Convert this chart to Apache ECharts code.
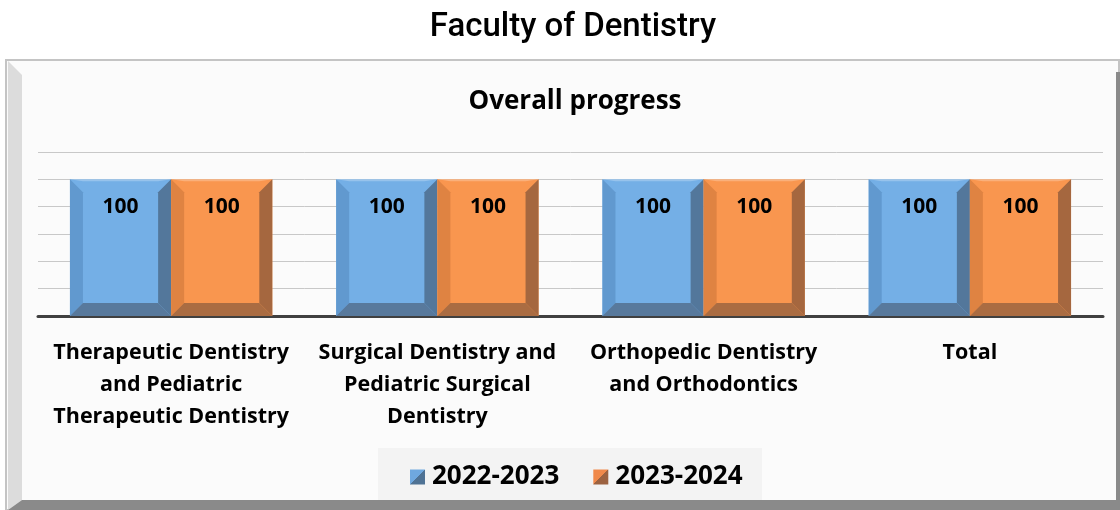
<!DOCTYPE html>
<html>
<head>
<meta charset="utf-8">
<script src="https://cdn.jsdelivr.net/npm/echarts@6/dist/echarts.min.js"></script>
<style>
html, body { margin: 0; padding: 0; background: #fff; }
#main { width: 1120px; height: 510px; }
</style>
</head>
<body>
<div id="main"></div>
<script>
var categories = [
    'Therapeutic Dentistry\nand Pediatric\nTherapeutic Dentistry',
    'Surgical Dentistry and\nPediatric Surgical\nDentistry',
    'Orthopedic Dentistry\nand Orthodontics',
    'Total'
];
var seriesNames = ['2022-2023', '2023-2024'];
var values2022 = [100, 100, 100, 100];
var values2023 = [100, 100, 100, 100];
var yTicks = [0, 20, 40, 60, 80, 100, 120];

// face, left bevel, right bevel, bottom bevel
var palettes = [
    { face: '#74afe6', left: '#6199cf', right: '#53779b', bottom: '#58799c' },
    { face: '#f9964f', left: '#df8342', right: '#a5673f', bottom: '#aa6c42' }
];

var font = '"Open Sans", Lato, sans-serif';

function make_render(si) {
    return function (params, api) {
	var idx = api.value(0);
	var val = api.value(1);
	var band = api.size([1, 0])[0];
	var bw = band * 0.38;
	var top = api.coord([idx, val]);
	var base = api.coord([idx, 0]);
	var x0 = top[0] - bw + si * bw;
	var x1 = x0 + bw;
	var y0 = top[1];
	var y1 = base[1];
	var b = 13;
	var p = palettes[si];
	return {
	    type: 'group',
	    children: [
		{ type: 'rect', shape: { x: x0, y: y0, width: bw, height: y1 - y0 }, style: { fill: p.face } },
		{ type: 'polygon', shape: { points: [[x0, y0], [x0 + b, y0 + b], [x0 + b, y1 - b], [x0, y1]] }, style: { fill: p.left } },
		{ type: 'polygon', shape: { points: [[x1, y0], [x1 - b, y0 + b], [x1 - b, y1 - b], [x1, y1]] }, style: { fill: p.right } },
		{ type: 'polygon', shape: { points: [[x0, y1], [x0 + b, y1 - b], [x1 - b, y1 - b], [x1, y1]] }, style: { fill: p.bottom } },
		{ type: 'polygon', shape: { points: [[x0, y0], [x1, y0], [x1 - b, y0 + 2], [x0 + b, y0 + 2]] }, style: { fill: '#ffffff', opacity: 0.25 } },
		{ type: 'text', x: (x0 + x1) / 2, y: y0 + 28, style: { text: String(val), fill: '#000', font: 'bold 21px ' + font, align: 'center', verticalAlign: 'middle' } }
	    ]
	};
    };
}

function legend_icon(c1, c2) {
    return new echarts.graphic.LinearGradient(0, 0, 1, 1, [
	{ offset: 0, color: c1 }, { offset: 0.5, color: c1 }, { offset: 0.5, color: c2 }, { offset: 1, color: c2 }
    ]);
}

var chart = echarts.init(document.getElementById('main'));
var option = {
    backgroundColor: '#ffffff',
    animation: false,
    title: [
	{ text: 'Faculty of Dentistry', left: 568, top: 6, textAlign: 'center',
	  textStyle: { fontFamily: 'Roboto, sans-serif', fontSize: 33, fontWeight: 500, color: '#000' } },
	{ text: 'Overall progress', left: 570, top: 84, textAlign: 'center',
	  textStyle: { fontFamily: font, fontSize: 26, fontWeight: 'bold', color: '#000' } }
    ],
    graphic: [
	{ type: 'rect', z: -10, shape: { x: 6, y: 60, width: 1113, height: 450 }, style: { fill: '#fbfbfb', stroke: '#c4c4c4', lineWidth: 2 } },
	{ type: 'polygon', z: -9, shape: { points: [[8, 61], [22, 75], [22, 500], [8, 510]] }, style: { fill: '#dcdcdc' } },
	{ type: 'polygon', z: -9, shape: { points: [[8, 510], [22, 500], [1116, 500], [1119, 510]] }, style: { fill: '#8a8a8a' } },
	{ type: 'rect', z: -9, shape: { x: 1116, y: 72, width: 4, height: 438 }, style: { fill: '#8a8a8a' } },
	{ type: 'rect', z: -8, shape: { x: 378, y: 448, width: 384, height: 52 }, style: { fill: '#f3f3f3' } }
    ],
    legend: {
	left: 405,
	top: 459,
	itemWidth: 15,
	itemHeight: 15,
	itemGap: 34,
	icon: 'rect',
	textStyle: { fontFamily: font, fontSize: 26, fontWeight: 'bold', color: '#000', padding: [0, 0, 0, 2] },
	data: [
	    { name: seriesNames[0], itemStyle: { color: legend_icon('#6fa8df', '#4f7294') } },
	    { name: seriesNames[1], itemStyle: { color: legend_icon('#f0894a', '#9c6240') } }
	]
    },
    grid: { left: 38, right: 17, top: 152, bottom: 194 },
    xAxis: {
	type: 'category',
	data: categories,
	axisLine: { lineStyle: { color: '#404040', width: 3 } },
	axisTick: { show: false },
	axisLabel: { interval: 0, margin: 21, fontFamily: font, fontSize: 21.5, fontWeight: 'bold', color: '#000', lineHeight: 32 }
    },
    yAxis: {
	type: 'value',
	min: yTicks[0],
	max: yTicks[yTicks.length - 1],
	interval: 20,
	axisLabel: { show: false },
	axisLine: { show: false },
	axisTick: { show: false },
	splitLine: { lineStyle: { color: '#c8c8c8', width: 1 } }
    },
    series: [
	{
	    name: seriesNames[0], type: 'custom', itemStyle: { color: '#6fa8df' },
	    encode: { x: 0, y: 1 },
	    data: values2022.map(function (v, i) { return [i, v]; }),
	    renderItem: make_render(0)
	},
	{
	    name: seriesNames[1], type: 'custom', itemStyle: { color: '#f0894a' },
	    encode: { x: 0, y: 1 },
	    data: values2023.map(function (v, i) { return [i, v]; }),
	    renderItem: make_render(1)
	}
    ]
};
chart.setOption(option);
</script>
</body>
</html>
